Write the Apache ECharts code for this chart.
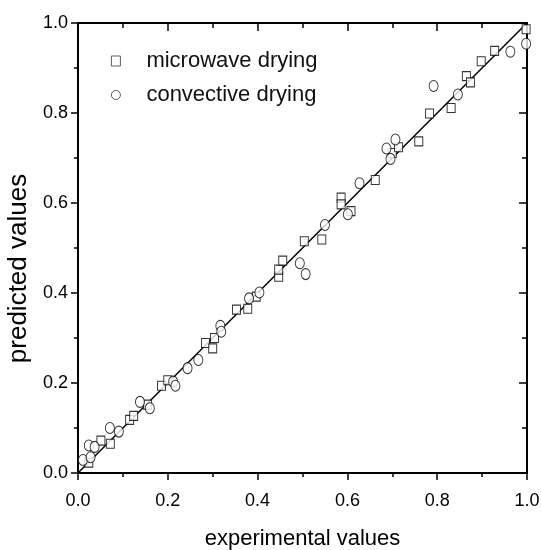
<!DOCTYPE html>
<html>
<head>
<meta charset="utf-8">
<script src="https://cdn.jsdelivr.net/npm/echarts@6/dist/echarts.min.js"></script>
<style>
  html, body { margin: 0; padding: 0; background: #fff; }
  #main { width: 541px; height: 550px; }
</style>
</head>
<body>
<div id="main"></div>
<script>
// data: [experimental, predicted]
var microwave = [
  [0.024, 0.023], [0.051, 0.072], [0.072, 0.065], [0.115, 0.118], [0.124, 0.127],
  [0.155, 0.152], [0.186, 0.194], [0.200, 0.206], [0.284, 0.289], [0.300, 0.277],
  [0.304, 0.300], [0.353, 0.363], [0.378, 0.365], [0.397, 0.392], [0.447, 0.436],
  [0.447, 0.452], [0.456, 0.472], [0.504, 0.515], [0.543, 0.519], [0.586, 0.612],
  [0.586, 0.597], [0.608, 0.582], [0.662, 0.651], [0.700, 0.711], [0.714, 0.724],
  [0.759, 0.737], [0.783, 0.799], [0.831, 0.811], [0.865, 0.882], [0.874, 0.868],
  [0.898, 0.915], [0.928, 0.938], [0.998, 0.986]
];
var convective = [
  [0.011, 0.029], [0.024, 0.061], [0.028, 0.035], [0.037, 0.058], [0.071, 0.100],
  [0.091, 0.092], [0.138, 0.158], [0.160, 0.144], [0.212, 0.203], [0.217, 0.194],
  [0.244, 0.233], [0.268, 0.251], [0.317, 0.327], [0.319, 0.314], [0.381, 0.388],
  [0.404, 0.401], [0.494, 0.466], [0.507, 0.442], [0.550, 0.551], [0.601, 0.575],
  [0.627, 0.644], [0.687, 0.721], [0.696, 0.698], [0.707, 0.741], [0.792, 0.860],
  [0.846, 0.841], [0.963, 0.936], [0.998, 0.954]
];
var fitLine = [[0, 0], [1, 1]];
var seriesNames = ['microwave drying', 'convective drying'];

var font = '"Liberation Sans", Arial, sans-serif';
var myChart = echarts.init(document.getElementById('main'));

function frameAxis(pos, showLabel) {
  return {
    type: 'value',
    position: pos,
    min: 0,
    max: 1,
    interval: 0.2,
    axisLine: { show: true, onZero: false, lineStyle: { color: '#000', width: 2 } },
    axisTick: { show: true, inside: !showLabel, length: showLabel ? 7 : 8, lineStyle: { color: '#000', width: 1.5 } },
    minorTick: { show: true, splitNumber: 2, length: showLabel ? 4 : 5, lineStyle: { color: '#000', width: 1.5 } },
    splitLine: { show: false },
    axisLabel: {
      show: showLabel,
      color: '#000',
      fontFamily: font,
      fontSize: 18,
      formatter: function (v) { return v.toFixed(1); }
    }
  };
}

var xBottom = frameAxis('bottom', true);
xBottom.axisLabel.margin = 19;
xBottom.name = 'experimental values';
xBottom.nameLocation = 'middle';
xBottom.nameGap = 55;
xBottom.nameTextStyle = { color: '#000', fontFamily: font, fontSize: 22, lineHeight: 22 };

var yLeft = frameAxis('left', true);
yLeft.axisLabel.margin = 10;
yLeft.name = 'predicted values';
yLeft.nameLocation = 'middle';
yLeft.nameGap = 43;
yLeft.nameTextStyle = { color: '#000', fontFamily: font, fontSize: 26, lineHeight: 26, padding: [0, 41, 0, 0] };

var xTop = frameAxis('top', false);
var yRight = frameAxis('right', false);

var option = {
  animation: false,
  backgroundColor: '#fff',
  grid: { left: 78, right: 14, top: 23, bottom: 77, outerBoundsMode: 'none' },
  legend: {
    data: seriesNames,
    orient: 'vertical',
    left: 111,
    top: 50,
    padding: 0,
    itemGap: 12,
    itemWidth: 9,
    itemHeight: 10,
    itemStyle: { color: '#fff', borderColor: '#000', borderWidth: 0.8 },
    textStyle: { color: '#111', fontFamily: font, fontSize: 22, lineHeight: 22, padding: [0, 0, 0, 21] }
  },
  xAxis: [xBottom, xTop],
  yAxis: [yLeft, yRight],
  series: [
    {
      name: 'fit',
      type: 'line',
      data: fitLine,
      showSymbol: false,
      symbol: 'none',
      lineStyle: { color: '#000', width: 1.5 },
      z: 1
    },
    {
      name: seriesNames[0],
      type: 'scatter',
      data: microwave,
      symbol: 'rect',
      symbolSize: [8, 9],
      itemStyle: { color: '#fff', borderColor: '#000', borderWidth: 1 },
      z: 2
    },
    {
      name: seriesNames[1],
      type: 'scatter',
      data: convective,
      symbol: 'circle',
      symbolSize: [9, 11],
      itemStyle: { color: '#fff', borderColor: '#000', borderWidth: 1 },
      z: 3
    }
  ]
};

myChart.setOption(option);
</script>
</body>
</html>
